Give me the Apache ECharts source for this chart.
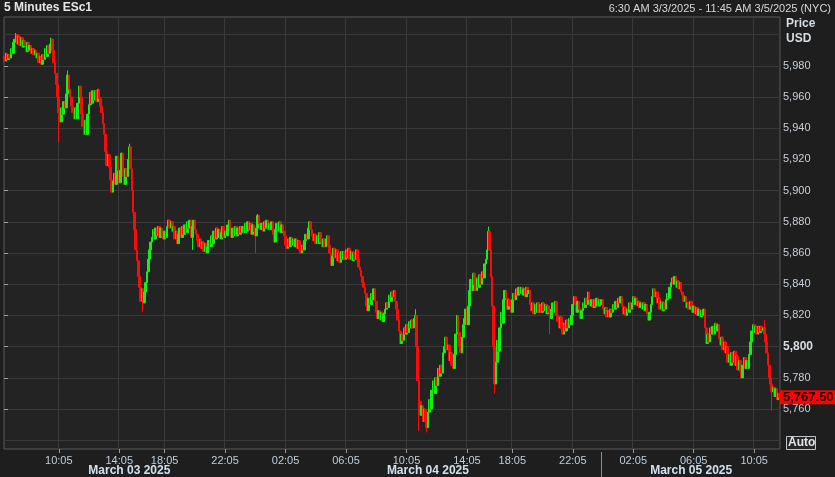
<!DOCTYPE html>
<html><head><meta charset="utf-8">
<script src="https://cdn.jsdelivr.net/npm/echarts@6/dist/echarts.min.js"></script>
<style>html,body{margin:0;padding:0;background:#1e1e1e;}#c{width:835px;height:477px;}</style>
</head><body><div id="c"></div>
<script>
// ---- data ----
const sessions = [["2025-03-03 06:30","2025-03-03 16:55"],["2025-03-03 18:00","2025-03-04 16:55"],["2025-03-04 18:00","2025-03-05 11:45"]];
const tickTimes = ["02:05","06:05","10:05","14:05","18:05","22:05"];
const monthNames = ["January","February","March","April","May","June","July","August","September","October","November","December"];
const firstOpen = 5986;
const closesSession1 = [
5983,5988,5984,5987,5985,5991,5988,5995, 5997,6000,5994,5999,5993,5998,5992,5996,
5993,5989,5995,5990,5993,5988,5991,5987, 5990,5985,5988,5982,5986,5981,5987,5984,
5991,5986,5993,5988,5994,5997,5990,5982, 5975,5968,5960,5950,5944,5953,5949,5957,
5953,5962,5974,5965,5960,5954,5950,5946, 5953,5946,5956,5967,5960,5949,5941,5936,
5945,5936,5949,5955,5963,5956,5964,5958, 5964,5957,5965,5959,5954,5950,5943,5936,
5925,5916,5923,5915,5907,5899,5906,5911, 5904,5922,5913,5905,5913,5924,5909,5904,
5914,5909,5920,5928,5914,5900,5886,5875, 5862,5855,5845,5838,5829,5837,5828,5835,
5841,5848,5856,5862,5867,5870,5875,5869, 5876,5871,5877,5870,5876,5871];
const closesSession2 = [
5869,5874,5870,5877,5881,5876,5880,5874, 5877,5869,5874,5866,5872,5876,5870,5877,
5872,5878,5873,5880,5876,5881,5870,5877, 5881,5875,5872,5868,5864,5869,5863,5867,
5861,5866,5860,5864,5868,5864,5871,5866, 5874,5869,5876,5870,5875,5869,5873,5877,
5870,5874,5871,5878,5881,5874,5870,5876, 5871,5877,5871,5876,5872,5877,5873,5877,
5873,5879,5874,5880,5875,5879,5872,5878, 5874,5871,5876,5884,5879,5875,5879,5874,
5880,5876,5881,5875,5879,5875,5880,5872, 5867,5875,5879,5874,5880,5873,5878,5874,
5871,5865,5863,5869,5864,5870,5865,5869, 5864,5869,5863,5868,5862,5860,5865,5862,
5868,5872,5869,5876,5880,5875,5871,5868, 5872,5866,5871,5866,5873,5867,5864,5869,
5864,5869,5871,5865,5860,5852,5858,5863, 5857,5862,5855,5860,5854,5861,5856,5861,
5856,5862,5857,5863,5856,5861,5855,5860, 5856,5862,5856,5851,5849,5845,5841,5838,
5834,5826,5823,5831,5827,5834,5830,5837, 5829,5822,5818,5823,5817,5822,5816,5821,
5824,5828,5825,5833,5829,5835,5832,5836, 5829,5824,5817,5810,5802,5808,5804,5812,
5808,5814,5809,5816,5812,5817,5812,5818, 5820,5800,5778,5765,5756,5762,5752,5760,
5752,5748,5758,5766,5760,5772,5778,5770, 5780,5775,5786,5781,5788,5783,5796,5800,
5806,5798,5801,5791,5796,5788,5786,5795, 5808,5820,5809,5800,5796,5806,5814,5818,
5824,5814,5826,5836,5843,5836,5847,5840, 5836,5844,5838,5846,5840,5848,5844,5853,
5856,5862,5874,5862,5845,5826,5800,5776, 5790,5804,5797,5812,5822,5815,5830,5836,
5831,5824,5830,5826];
const closesSession3 = [
5822,5830,5834,5830,5837,5833,5838,5834, 5838,5833,5837,5832,5838,5834,5836,5827,
5823,5828,5821,5827,5822,5828,5822,5827, 5822,5828,5823,5827,5821,5826,5822,5818,
5824,5828,5822,5829,5820,5816,5812,5819, 5812,5808,5815,5810,5817,5812,5818,5814,
5820,5827,5832,5827,5822,5829,5824,5818, 5823,5828,5825,5831,5827,5835,5830,5826,
5830,5825,5830,5826,5831,5826,5830,5827, 5830,5824,5821,5825,5819,5823,5819,5824,
5822,5827,5824,5829,5825,5831,5828,5832, 5826,5821,5825,5820,5824,5822,5828,5824,
5828,5832,5827,5831,5826,5829,5825,5828, 5824,5828,5823,5827,5821,5817,5822,5827,
5832,5837,5832,5835,5828,5831,5824,5829, 5823,5828,5824,5830,5834,5831,5838,5841,
5844,5840,5845,5838,5842,5837,5841,5835, 5833,5829,5832,5825,5828,5824,5829,5826,
5822,5826,5821,5825,5820,5824,5819,5823, 5820,5824,5812,5802,5808,5803,5812,5808,
5813,5808,5815,5810,5814,5805,5801,5806, 5798,5803,5796,5800,5790,5795,5788,5796,
5790,5797,5788,5794,5785,5791,5784,5780, 5788,5793,5786,5791,5786,5795,5803,5810,
5814,5809,5813,5808,5813,5809,5813,5810, 5812,5808,5803,5796,5788,5780,5776,5771,
5774,5768,5773,5766,5770,5767.5];
// wicks beyond the bodies: [bar index, price]
const lowWicks = [[43,5931],[110,5822],[149,5862],[199,5860],[329,5746],[335,5745],[389,5770],[433,5808],[609,5759]];
const highWicks = [[9,6001],[37,5998],[50,5977],[99,5930],[201,5885],[326,5824],[384,5877],[603,5817]];

// ---- build ----
function pad(n){return n<10?'0'+n:''+n;}
const categories = [];
sessions.forEach(function(se){
  let t = Date.parse(se[0].replace(' ','T')+':00Z');
  const end = Date.parse(se[1].replace(' ','T')+':00Z');
  while (t <= end) {
    const d = new Date(t);
    categories.push(d.getUTCFullYear()+'-'+pad(d.getUTCMonth()+1)+'-'+pad(d.getUTCDate())+' '+pad(d.getUTCHours())+':'+pad(d.getUTCMinutes()));
    t += 300000;
  }
});
const closes = closesSession1.concat(closesSession2, closesSession3);
const lowMap = {}; lowWicks.forEach(function(w){lowMap[w[0]] = w[1];});
const highMap = {}; highWicks.forEach(function(w){highMap[w[0]] = w[1];});
const candles = closes.map(function(c, i){
  const o = i === 0 ? firstOpen : closes[i-1];
  const lo = lowMap[i] !== undefined ? lowMap[i] : Math.min(o, c);
  const hi = highMap[i] !== undefined ? highMap[i] : Math.max(o, c);
  return [o, c, lo, hi];
});
const lastClose = closes[closes.length-1];

// calendar-day label positions and separator
const dayFirst = {}, dayLast = {};
categories.forEach(function(c, i){ const d = c.slice(0,10); if (dayFirst[d] === undefined) dayFirst[d] = i; dayLast[d] = i; });
const days = Object.keys(dayFirst);
const dayCenters = {};
days.forEach(function(d){ dayCenters[Math.round((dayFirst[d]+dayLast[d])/2)] = d; });
const sepIndex = dayFirst[days[days.length-1]];

// ---- layout ----
const PLOT_LEFT = 4, PLOT_W = 776, PLOT_TOP = 17, PLOT_H = 432;
const PX_PER_UNIT = 1.56;
const Y_GRID_MIN = 5740, Y_GRID_MAX = 6000;
const Y_GRID_TOP = 34.6;
const Y_GRID_H = (Y_GRID_MAX - Y_GRID_MIN) * PX_PER_UNIT;
const Y0_MAX = Y_GRID_MAX + (Y_GRID_TOP - PLOT_TOP) / PX_PER_UNIT;
const Y0_MIN = Y_GRID_MIN - ((PLOT_TOP + PLOT_H) - (Y_GRID_TOP + Y_GRID_H)) / PX_PER_UNIT;

const FONT = "'Liberation Sans', Arial, sans-serif";
const GRID_LINE = '#3a3a3a';
const UP = '#14f014', DOWN = '#ff0a0a';

function isTick(i, v){ return tickTimes.indexOf(v.slice(11)) >= 0; }
function fmtNum(v, dec){ return v.toLocaleString('en-US', {minimumFractionDigits:dec, maximumFractionDigits:dec}); }

const chart = echarts.init(document.getElementById('c'));
chart.setOption({
  backgroundColor: '#1e1e1e',
  animation: false,
  textStyle: {fontFamily: FONT},
  grid: [
    {left: PLOT_LEFT, width: PLOT_W, top: PLOT_TOP, height: PLOT_H, show: true, backgroundColor: '#232323', borderColor: '#5a5a5a', borderWidth: 1},
    {left: PLOT_LEFT, width: PLOT_W, top: Y_GRID_TOP, height: Y_GRID_H, show: false}
  ],
  xAxis: [
    {type: 'category', gridIndex: 0, data: categories, boundaryGap: true,
     axisLine: {show: false},
     axisTick: {show: true, alignWithLabel: true, interval: isTick, length: 4, lineStyle: {color: '#9a9a9a'}},
     axisLabel: {interval: isTick, formatter: function(v){return v.slice(11);}, color: '#c0cedb', fontSize: 11, margin: 6, fontFamily: FONT},
     splitLine: {show: true, interval: isTick, lineStyle: {color: GRID_LINE, width: 1}}},
    {type: 'category', gridIndex: 0, data: categories, boundaryGap: true, position: 'bottom', offset: 3,
     axisLine: {show: false},
     axisTick: {show: true, alignWithLabel: true, interval: function(i){return i === sepIndex;}, length: 26, lineStyle: {color: '#8c8c8c'}},
     axisLabel: {interval: function(i){return dayCenters[i] !== undefined;},
       formatter: function(v){ return monthNames[+v.slice(5,7)-1] + ' ' + v.slice(8,10) + ' ' + v.slice(0,4); },
       color: '#d2e0ee', fontSize: 12, fontWeight: 'bold', margin: 13, fontFamily: FONT},
     splitLine: {show: false}},
    {type: 'value', gridIndex: 1, show: false, min: 0, max: 1}
  ],
  yAxis: [
    {type: 'value', gridIndex: 0, min: Y0_MIN, max: Y0_MAX, show: false, splitLine: {show: false}},
    {type: 'value', gridIndex: 1, min: Y_GRID_MIN, max: Y_GRID_MAX, interval: 20, position: 'right',
     axisLine: {show: false},
     axisTick: {show: true, length: 4, lineStyle: {color: '#a0a0a0'}},
     axisLabel: {showMinLabel: false, showMaxLabel: false, margin: 3, color: '#c8ced6', fontSize: 11, fontFamily: FONT,
       formatter: function(v){ const s = fmtNum(v, 0); return v === 5800 ? '{b|' + s + '}' : s; },
       rich: {b: {fontWeight: 'bold', fontSize: 12, color: '#d8dde3', fontFamily: FONT}}},
     splitLine: {show: true, lineStyle: {color: GRID_LINE, width: 1}}}
  ],
  series: [{
    type: 'candlestick', xAxisIndex: 0, yAxisIndex: 0, data: candles, large: false, clip: false,
    barWidth: 2.2, z: 5,
    itemStyle: {color: UP, color0: DOWN, borderColor: UP, borderColor0: DOWN, borderWidth: 1},
    markLine: {
      silent: true, symbol: ['none','none'], animation: false,
      lineStyle: {color: 'rgba(0,0,0,0)', width: 1, type: 'solid'},
      data: [{yAxis: lastClose}],
      label: {show: true, position: 'end', distance: 0, formatter: fmtNum(lastClose, 2),
        backgroundColor: '#ff0000', color: '#1a0000', fontWeight: 'bold', fontSize: 13, fontFamily: FONT,
        padding: [1, 4, 0, 3]}
    }
  }],
  graphic: [
    {type: 'text', left: 4, top: 2, style: {text: '5 Minutes ESc1', fill: '#e6e6e6', font: 'bold 12px ' + FONT}},
    {type: 'text', right: 4, top: 3, style: {text: '6:30 AM 3/3/2025 - 11:45 AM 3/5/2025 (NYC)', fill: '#d6d6d6', font: '11px ' + FONT}},
    {type: 'text', left: 786, top: 18, style: {text: 'Price', fill: '#d4dbe2', font: 'bold 12px ' + FONT}},
    {type: 'text', left: 786, top: 33, style: {text: 'USD', fill: '#d4dbe2', font: 'bold 12px ' + FONT}},
    {type: 'rect', left: 786, top: 436, shape: {width: 29, height: 13}, style: {fill: '#262626', stroke: '#c4c4c4', lineWidth: 1}},
    {type: 'text', left: 788, top: 437, style: {text: 'Auto', fill: '#dfe5ea', font: 'bold 12px ' + FONT}}
  ]
});
</script>
</body></html>
